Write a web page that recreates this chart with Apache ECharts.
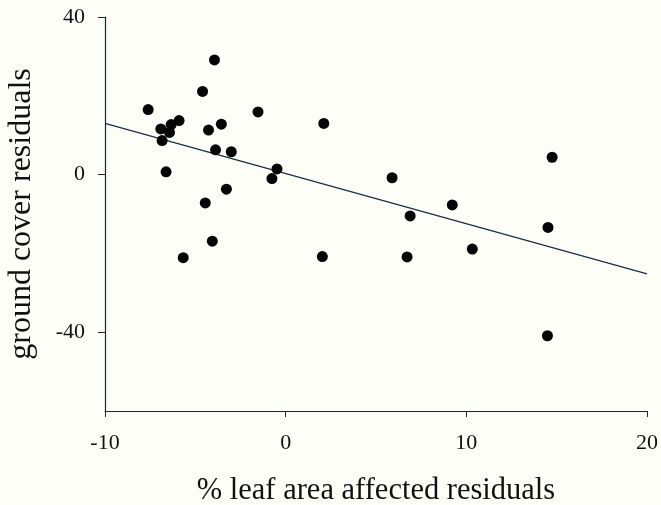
<!DOCTYPE html>
<html>
<head>
<meta charset="utf-8">
<script src="https://cdn.jsdelivr.net/npm/echarts@6/dist/echarts.min.js"></script>
<style>
  html, body { margin: 0; padding: 0; background: #fefef9; }
  #chart { width: 661px; height: 505px; }
</style>
</head>
<body>
<div id="chart"></div>
<script>
// Residuals of leaf area affected (%) against ground cover residuals
const leafAreaResid = [
  -7.61, -6.91, -6.84, -6.43, -6.34, -5.90, -6.62, -4.60, -3.94, -4.27,
  -3.56, -3.88, -3.01, -1.53, -0.48, -0.76, -3.28, -4.45, -4.06, -5.67,
   2.11,  2.03, 14.75,  5.89,  6.89,  9.22, 14.52, 10.33,  6.72, 14.49
];
const groundCoverResid = [
  16.5, 11.6,  8.65, 10.7, 12.7, 13.7,  0.7, 21.1, 29.1, 11.3,
  12.8,  6.3,  5.8, 15.9,  1.45, -1.0, -3.7, -7.2, -16.9, -21.1,
  13.0, -20.8,  4.4, -0.8, -10.5, -7.7, -13.4, -18.9, -20.9, -40.9
];

// Fitted regression line endpoints
const fitX = [-10, 20];
const fitY = [13.0, -25.2];

// Tick values shown on each axis
const xTicks = [-10, 0, 10, 20];
const yTicks = [-40, 0, 40];

const serif = '"Liberation Serif", "Times New Roman", serif';
const ink = '#1c2630';

const chart = echarts.init(document.getElementById('chart'));
chart.setOption({
  backgroundColor: '#fefef9',
  animation: false,
  grid: { left: 105, right: 14, top: 17, bottom: 94, outerBoundsMode: 'none', containLabel: false },
  xAxis: {
    type: 'value',
    min: -10, max: 20, interval: 10,
    name: '% leaf area affected residuals',
    nameLocation: 'middle',
    nameGap: 64,
    nameTextStyle: { fontFamily: serif, fontSize: 30.5, color: '#111' },
    axisLine: { show: true, onZero: false, lineStyle: { color: ink, width: 1.2 } },
    axisTick: { show: true, length: 6, customValues: xTicks, lineStyle: { color: ink } },
    axisLabel: { customValues: xTicks, margin: 21, fontFamily: serif, fontSize: 22, color: '#111' },
    splitLine: { show: false }
  },
  yAxis: {
    type: 'value',
    min: -60, max: 40, interval: 20,
    name: 'ground cover residuals',
    nameLocation: 'middle',
    nameGap: 67,
    nameTextStyle: { fontFamily: serif, fontSize: 32, color: '#111' },
    axisLine: { show: true, onZero: false, lineStyle: { color: ink, width: 1.2 } },
    axisTick: { show: true, length: 7, customValues: yTicks, lineStyle: { color: ink } },
    axisLabel: { customValues: yTicks, margin: 20, fontFamily: serif, fontSize: 22, color: '#111' },
    splitLine: { show: false }
  },
  series: [
    {
      type: 'line',
      data: fitX.map((x, i) => [x, fitY[i]]),
      showSymbol: false,
      lineStyle: { color: '#1a3040', width: 1.3 },
      z: 1
    },
    {
      type: 'scatter',
      data: leafAreaResid.map((x, i) => [x, groundCoverResid[i]]),
      symbol: 'circle',
      symbolSize: 11,
      itemStyle: { color: '#050505', opacity: 1 },
      z: 2
    }
  ]
});
</script>
</body>
</html>
